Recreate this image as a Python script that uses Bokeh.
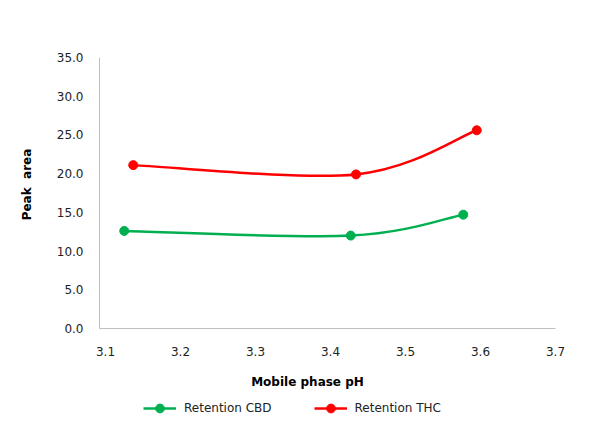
import numpy as np
from bokeh.plotting import figure
from bokeh.models import (Range1d, FixedTicker, NumeralTickFormatter, Label,
                          Legend, LegendItem, ColumnDataSource)
from bokeh.embed import file_html
from bokeh.resources import INLINE

# ---- data ----
ph_cbd = [3.125, 3.427, 3.577]
cbd = [12.6, 12.0, 14.7]
ph_thc = [3.137, 3.434, 3.595]
thc = [21.1, 19.9, 25.6]
x_ticks = [3.1, 3.2, 3.3, 3.4, 3.5, 3.6, 3.7]
y_ticks = [0, 5, 10, 15, 20, 25, 30, 35]
series_names = ["Retention CBD", "Retention THC"]
colors = ["#00B050", "#FF0000"]
x_title = "Mobile phase pH"
y_title = "Peak\u00a0 area"

FONT = "DejaVu Sans"

# ---- layout (pixels on the canvas) ----
W, H = 596, 433
B = 4                                  # border around the frame
AX_X0, AX_X1 = 99, 555                 # pixel of x = 3.092 and 3.7
AX_Y0, AX_Y35 = 328, 57                # pixel of y = 0 and 35
X_LO, X_HI = 3.092, 3.7
Y_LO, Y_HI = 0, 35
fx0, fx1, fy0, fy1 = B, W - B, B, H - B
sx = (AX_X1 - AX_X0) / (X_HI - X_LO)
sy = (AX_Y0 - AX_Y35) / (Y_HI - Y_LO)
x_range = Range1d(X_LO - (AX_X0 - fx0) / sx, X_HI + (fx1 - AX_X1) / sx)
y_range = Range1d(Y_LO - (fy1 - AX_Y0) / sy, Y_HI + (AX_Y35 - fy0) / sy)

p = figure(width=W, height=H, output_backend="svg", toolbar_location=None,
           x_range=x_range, y_range=y_range,
           min_border_left=B, min_border_right=B,
           min_border_top=B, min_border_bottom=B)
p.outline_line_color = None
p.xgrid.visible = False
p.ygrid.visible = False
p.background_fill_color = "white"
p.border_fill_color = "white"

for ax in (p.xaxis[0], p.yaxis[0]):
    ax.axis_line_color = "#BFBFBF"
    ax.axis_line_width = 1
    ax.major_tick_line_color = None
    ax.minor_tick_line_color = None
    ax.major_tick_out = 0
    ax.major_tick_in = 0
    ax.minor_tick_out = 0
    ax.major_label_text_font = FONT
    ax.major_label_text_font_size = "12px"
    ax.major_label_text_color = "#222222"
    ax.formatter = NumeralTickFormatter(format="0.0")

p.xaxis.ticker = FixedTicker(ticks=x_ticks)
p.yaxis.ticker = FixedTicker(ticks=y_ticks)
p.xaxis.fixed_location = Y_LO
p.yaxis.fixed_location = X_LO
p.xaxis.bounds = (X_LO, X_HI)
p.yaxis.bounds = (Y_LO, Y_HI)
p.xaxis.major_label_standoff = 18
p.yaxis.major_label_standoff = 16


def smooth_controls(xs, ys):
    xs = np.asarray(xs, float)
    ys = np.asarray(ys, float)
    n = len(xs)
    out = {k: [] for k in ("x0", "y0", "x1", "y1", "cx0", "cy0", "cx1", "cy1")}
    for i in range(n - 1):
        im1 = max(i - 1, 0)
        ip2 = min(i + 2, n - 1)
        out["x0"].append(xs[i]); out["y0"].append(ys[i])
        out["x1"].append(xs[i + 1]); out["y1"].append(ys[i + 1])
        out["cx0"].append(xs[i] + (xs[i + 1] - xs[im1]) / 6)
        out["cy0"].append(ys[i] + (ys[i + 1] - ys[im1]) / 6)
        out["cx1"].append(xs[i + 1] - (xs[ip2] - xs[i]) / 6)
        out["cy1"].append(ys[i + 1] - (ys[ip2] - ys[i]) / 6)
    return out


items = []
for xs, ys, name, col in [(ph_cbd, cbd, series_names[0], colors[0]),
                          (ph_thc, thc, series_names[1], colors[1])]:
    src = ColumnDataSource(smooth_controls(xs, ys))
    br = p.bezier(x0="x0", y0="y0", x1="x1", y1="y1", cx0="cx0", cy0="cy0",
                  cx1="cx1", cy1="cy1", source=src, line_color=col, line_width=2.5)
    sr = p.scatter(xs, ys, size=9, fill_color=col, line_color=col, marker="circle")
    items.append(LegendItem(label=name, renderers=[br, sr]))

# frame-relative screen positions (x from frame left, y up from frame bottom)
xlab = Label(x=307 - fx0, y=fy1 - 381, x_units="screen", y_units="screen",
             text=x_title, text_font=FONT, text_font_size="12px",
             text_font_style="bold", text_align="center", text_baseline="middle",
             text_color="black")
ylab = Label(x=26 - fx0, y=fy1 - 184, x_units="screen", y_units="screen",
             text=y_title, text_font=FONT, text_font_size="12px",
             text_font_style="bold", text_align="center", text_baseline="middle",
             angle=np.pi / 2, text_color="black")
p.add_layout(xlab)
p.add_layout(ylab)

legend = Legend(items=items, orientation="horizontal",
                location=(143 - fx0, fy1 - 419),
                glyph_width=33, glyph_height=22, label_height=22,
                label_standoff=8, spacing=42, padding=0, margin=0,
                border_line_color=None, background_fill_alpha=0,
                label_text_font=FONT, label_text_font_size="12px",
                label_text_color="#222222")
p.add_layout(legend, "center")

open("out.html", "w").write(file_html(p, INLINE))
